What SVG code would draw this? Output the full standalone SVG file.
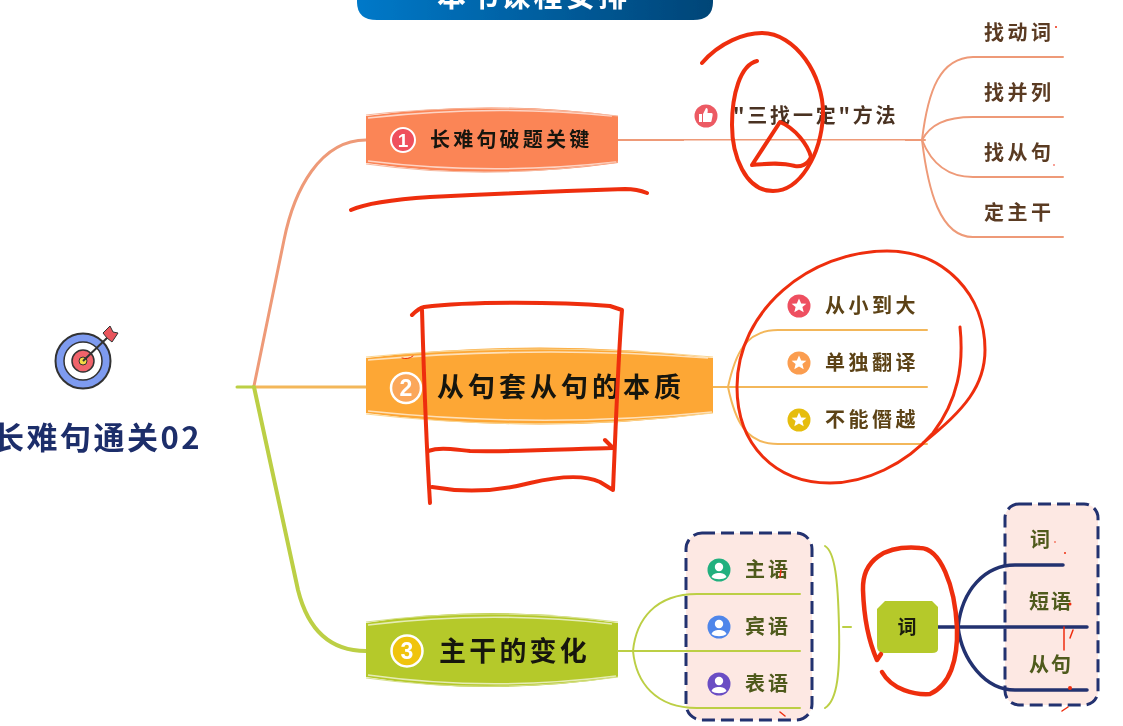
<svg xmlns="http://www.w3.org/2000/svg" xmlns:xlink="http://www.w3.org/1999/xlink" width="1123" height="726" viewBox="0 0 1123 726">
<style>
text{font-family:"Noto Sans CJK SC","Noto Sans",sans-serif;font-weight:700}
.t1{font-size:20px;fill:#171310;letter-spacing:3.2px}
.t2{font-size:27px;fill:#171310;letter-spacing:4px}
.sub-o{font-size:20px;fill:#5a3a22;letter-spacing:3.5px}
.sub-y{font-size:20px;fill:#5c4316;letter-spacing:3.5px}
.sub-g{font-size:20px;fill:#4f5a1c;letter-spacing:3px}
.num{font-size:19px;fill:#fff;text-anchor:middle;font-family:"Liberation Sans",sans-serif}
.o,.y,.g,.n{fill:none;stroke-linecap:round}
.o{stroke:#ee9a78;stroke-width:2}
.y{stroke:#f3b75a;stroke-width:2}
.g{stroke:#bccf45;stroke-width:2}
.n{stroke:#24306f;stroke-width:3.5}
.hl{fill:none;stroke:#fff;stroke-opacity:.65;stroke-width:1.6}
.red{fill:none;stroke:#ee2e10;stroke-width:4;stroke-linecap:round;stroke-linejoin:round}
.dash{stroke:#24306f;stroke-width:3;stroke-dasharray:13 6;fill:#fde8e3}
.star{fill:#fff}
</style>
<defs>
<linearGradient id="bn" x1="0" x2="1" y1="0" y2="0"><stop offset="0" stop-color="#0079c9"/><stop offset="1" stop-color="#004577"/></linearGradient>
<filter id="soft" x="-2%" y="-2%" width="104%" height="104%"><feGaussianBlur stdDeviation="0.5"/></filter>
<path id="st" d="M0,-7.5 L2.2,-2.4 L7.4,-2.2 L3.4,1.1 L4.7,6.3 L0,3.4 L-4.7,6.3 L-3.4,1.1 L-7.4,-2.2 L-2.2,-2.4 Z" class="star"/>
<g id="pn"><circle cx="0" cy="-3" r="4.2" fill="#fff"/><path d="M-7.5,7 C-6,1.500 6,1.500 7.5,7 C4,10 -4,10 -7.5,7 Z" fill="#fff"/></g>
</defs>
<rect width="1123" height="726" fill="#fff"/>
<g filter="url(#soft)">
<g id="banner">
<path d="M357,-10 H713 V2 Q713,20 693,20 H377 Q357,20 357,2 Z" fill="url(#bn)"/>
<text x="437" y="7" font-size="29" fill="#fff" letter-spacing="3.2">本书课程安排</text>
</g>
<g id="connectors">
<path class="g" style="stroke-width:3" d="M237,387 H254"/>
<path class="o" style="stroke-width:3" d="M254,386 L284,240 C294,190 320,140 366,140"/>
<path class="y" style="stroke-width:3" d="M254,387 H366"/>
<path class="g" style="stroke-width:4" d="M254,387 L298,590 C308,630 330,651 366,651"/>
<path class="o" d="M618,140 H925"/>
<path class="hl" d="M684,141 H905"/>
<path class="o" d="M922,140 C928,90 940,58 973,57 H1063"/>
<path class="o" d="M922,140 C930,125 945,117 973,117 H1063"/>
<path class="o" d="M922,140 C930,160 945,177 973,177 H1063"/>
<path class="o" d="M922,140 C928,190 940,237 973,237 H1063"/>
<path class="y" d="M713,387 H927"/>
<path class="y" d="M728,387 C735,355 745,330 778,330 H927"/>
<path class="y" d="M728,387 C735,420 745,444 778,444 H927"/>
</g>
<g id="root-node">
<circle cx="83" cy="361" r="27.500" fill="#7e9bf0" stroke="#333" stroke-width="2"/>
<circle cx="83" cy="361" r="19" fill="#fff" stroke="#333" stroke-width="1.500"/>
<circle cx="83" cy="361" r="11" fill="#f0636a" stroke="#333" stroke-width="1.500"/>
<circle cx="83" cy="361" r="4" fill="#f2da45" stroke="#333" stroke-width="1"/>
<path d="M83,361 L107,338" stroke="#333" stroke-width="2" fill="none"/>
<path d="M103,333 L110,326 L113,332 L118,333 L112,342 L107,338 Z" fill="#e9545c" stroke="#333" stroke-width="1"/>
<text x="-7" y="449" font-size="31" fill="#1f2d6b" letter-spacing="2.500">长难句通关02</text>
</g>
<g id="node-1">
<path d="M366,116 Q490,99 618,116 V163 Q490,181 366,163 Z" fill="#fb8557"/>
<path class="hl" d="M368,118 Q490,104 612,116"/>
<path class="hl" d="M368,161 Q490,176 616,162"/>
<path d="M366,115 Q490,101 618,116 M366,164 Q490,181 618,162" fill="none" stroke="#f6b9a0" stroke-width="1.200"/>
<circle cx="403" cy="140" r="12" fill="#ef4f5d" stroke="#fff" stroke-width="2"/>
<text class="num" x="403" y="147">1</text>
<text class="t1" x="430" y="147">长难句破题关键</text>
</g>
<g id="method">
<circle cx="706" cy="116" r="11.500" fill="#ec5a64"/>
<path d="M699,114 h3 v8 h-3 Z M703,114 l3,-6 c2,0 2,2 1.500,5 h4 c1,0 1.500,1 1,3 l-1,5 c0,1 -1,1 -2,1 h-6.500 Z" fill="#fff"/>
<text class="sub-o" x="733" y="123" style="fill:#4a3322;letter-spacing:2.800px">"三找一定"方法</text>
</g>
<g id="leaf-1"><text class="sub-o" x="984" y="40">找动词</text></g>
<g id="leaf-2"><text class="sub-o" x="984" y="100">找并列</text></g>
<g id="leaf-3"><text class="sub-o" x="984" y="160">找从句</text></g>
<g id="leaf-4"><text class="sub-o" x="984" y="220">定主干</text></g>
<g id="node-2">
<path d="M366,358 Q540,337 713,358 V413 Q540,436 366,413 Z" fill="#fda735"/>
<path class="hl" d="M368,360 Q540,345 708,358 M368,411 Q540,429 712,412"/>
<path d="M366,357 Q540,341 713,357 M366,414 Q540,434 713,413" fill="none" stroke="#f9d694" stroke-width="1.200"/>
<circle cx="406" cy="388" r="15" fill="#fba75a" stroke="#fff" stroke-width="2.500"/>
<text class="num" x="406" y="396" style="font-size:23px">2</text>
<text class="t2" x="437" y="397">从句套从句的本质</text>
</g>
<g id="item-2a"><circle cx="799" cy="306" r="11.500" fill="#ee4f60"/><use href="#st" x="799" y="306"/><text class="sub-y" x="825" y="313">从小到大</text></g>
<g id="item-2b"><circle cx="799" cy="363" r="11.500" fill="#fb9d4f"/><use href="#st" x="799" y="363"/><text class="sub-y" x="825" y="370">单独翻译</text></g>
<g id="item-2c"><circle cx="799" cy="420" r="11.500" fill="#e6bd10"/><use href="#st" x="799" y="420"/><text class="sub-y" x="825" y="427">不能僭越</text></g>
<g id="node-3">
<path d="M366,623 Q490,603 618,623 V677 Q490,697 366,677 Z" fill="#b5c92c"/>
<path class="hl" d="M368,625 Q490,610 612,624 M368,675 Q490,692 616,676"/>
<path d="M366,622 Q490,606 618,622 M366,678 Q490,695 618,677" fill="none" stroke="#d6e08c" stroke-width="1.200"/>
<circle cx="407" cy="651" r="15.500" fill="#f0c40e" stroke="#fff" stroke-width="2.500"/>
<text class="num" x="407" y="659" style="font-size:23px">3</text>
<text class="t2" x="439" y="661" style="letter-spacing:3.200px">主干的变化</text>
</g>
<g id="box-a">
<rect x="686" y="533" width="126" height="187" rx="16" class="dash"/>
</g>
<g id="branch-3">
<path class="g" d="M618,651 H800"/>
<path class="g" d="M633,651 C636,620 655,594 697,594 H800"/>
<path class="g" d="M633,651 C636,682 655,708 697,708 H800"/>
</g>
<g id="item-3a"><circle cx="719" cy="570" r="11.500" fill="#22b07f"/><use href="#pn" x="719" y="570"/><text class="sub-g" x="745" y="577">主语</text></g>
<g id="item-3b"><circle cx="719" cy="627" r="11.500" fill="#4f86ea"/><use href="#pn" x="719" y="627"/><text class="sub-g" x="745" y="634">宾语</text></g>
<g id="item-3c"><circle cx="719" cy="684" r="11.500" fill="#6a4ec4"/><use href="#pn" x="719" y="684"/><text class="sub-g" x="745" y="691">表语</text></g>
<g id="bracket">
<path class="g" d="M825,546 C835,552 838,580 839,627 C840,670 838,700 825,708"/>
<path class="g" d="M843,627 H851"/>
</g>
<g id="box-b">
<rect x="1005" y="504" width="93" height="201" rx="14" class="dash"/>
</g>
<g id="branch-word">
<path class="n" d="M938,627 H1087"/>
<path class="n" d="M958,627 C962,590 985,565 1015,565 H1063"/>
<path class="n" d="M958,627 C962,660 985,690 1015,690 H1087"/>
</g>
<g id="word-node">
<path d="M885,601 H932 L938,607 V649 Q938,653 932,653 H884 Q877,653 877,646 V609 Z" fill="#b5c92c"/>
<text x="907" y="634" text-anchor="middle" font-size="19" fill="#1b1f10">词</text>
</g>
<g id="word-1"><text class="sub-g" x="1030" y="547">词</text></g>
<g id="word-2"><text class="sub-g" x="1029" y="609" style="letter-spacing:2px">短语</text></g>
<g id="word-3"><text class="sub-g" x="1029" y="672" style="letter-spacing:2px">从句</text></g>
<g id="ink">
<path class="red" d="M351,210 C362,205 385,200 430,197 C490,194 560,191 625,189 C635,189 642,191 647,193"/>
<path class="red" d="M702,63 C720,42 745,33 762,33 C795,33 824,75 823,115 C821,155 800,191 773,191 C745,191 732,155 732,125 C732,95 740,65 757,61"/>
<path class="red" d="M780,122 C795,128 808,145 811,157 C808,165 800,167 795,166 C780,162 765,164 752,165 Z"/>
<path class="red" d="M412,315 C416,311 420,308 424,307 C470,301 560,302 610,306 L622,310 C618,360 616,420 613,490 L600,482 C585,475 560,476 530,483 C495,492 460,492 432,487"/>
<path class="red" d="M422,310 C424,380 426,440 430,503"/>
<path class="red" d="M428,451 C440,447 450,449 470,451 C520,452 570,449 613,448 L605,440"/>
<path class="red" style="stroke-width:3" d="M960,327 C964,365 958,400 933,433 C905,465 865,483 830,483 C775,483 737,445 737,387 C737,310 810,251 887,251 C945,251 985,295 985,350 C985,385 965,410 923,443"/>
<path class="red" style="stroke-width:4.500" d="M882,672 C892,690 915,695 930,694 C950,685 958,660 957,628 C955,585 940,548 920,548 C885,545 862,560 863,590 C864,620 868,640 877,660 L881,654"/>
<path class="red" style="stroke-width:1" d="M402,358 Q408,360 413,356"/>
<path class="red" style="stroke-width:1.500" d="M1064,627 V650 M1070,638 L1073,630 M1062,711 L1068,707 M781,570 L780,577 M780,712 L785,716"/>
<circle cx="1070" cy="688" r="2" fill="#ee2e10"/><circle cx="1070" cy="604" r="1.500" fill="#ee2e10"/><circle cx="1056" cy="27" r="1" fill="#ee2e10"/><circle cx="1054" cy="165" r="0.800" fill="#ee2e10"/><circle cx="1065" cy="553" r="1" fill="#ee2e10"/><circle cx="1055" cy="542" r="0.800" fill="#ee2e10"/>
</g>
</g>
</svg>
